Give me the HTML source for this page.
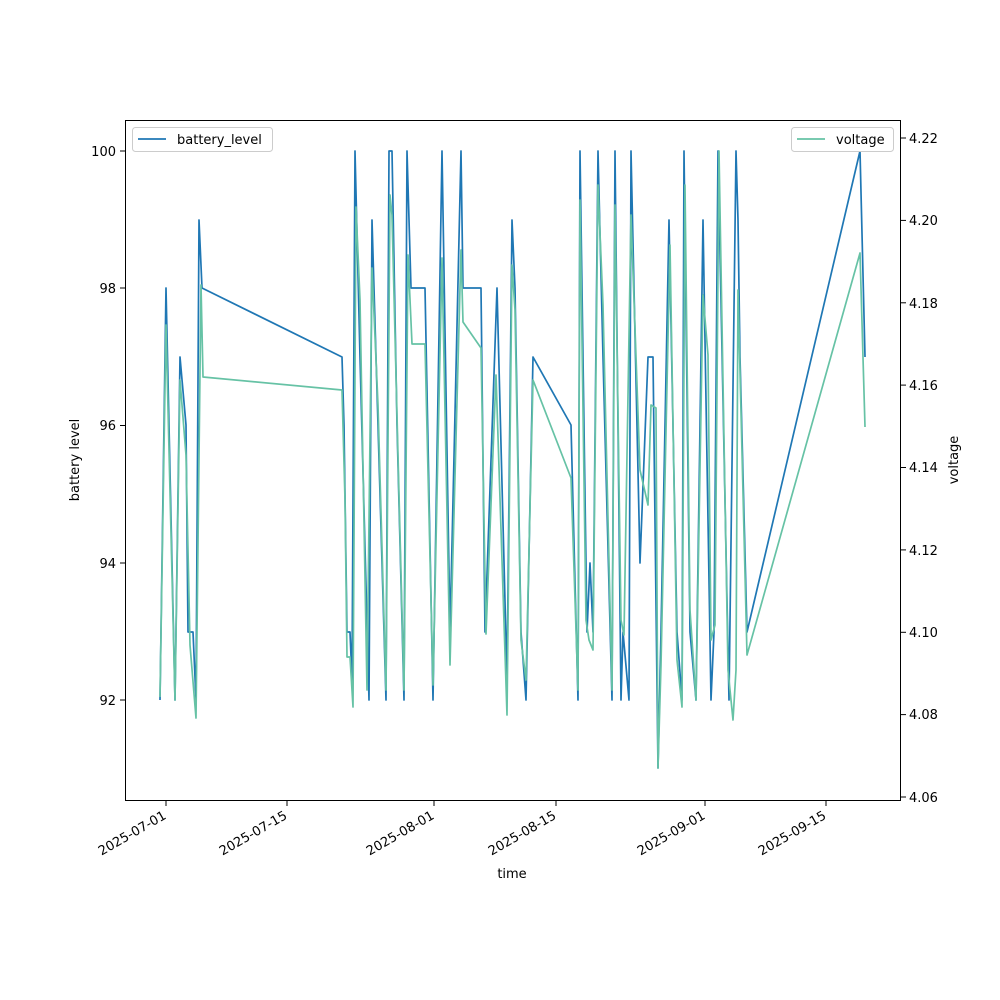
<!DOCTYPE html>
<html><head><style>body{margin:0;background:#fff}svg{display:block}text{font-family:"DejaVu Sans","Liberation Sans",sans-serif;font-size:13px;fill:#000}</style></head><body>
<svg width="1000" height="1000" xmlns="http://www.w3.org/2000/svg">
<rect width="1000" height="1000" fill="#fff"/>
<polyline fill="none" stroke="#1f77b4" stroke-width="1.7" stroke-linejoin="round" points="160,700 166,288 175,700 180,357 186,425 188,632 193,632 196,700 199,220 202,288 342,357 344,425 347,632 350,632 352,680 355,151 360,357 369,700 372,220 378,425 386,700 389,151 392,151 397,425 404,700 407,151 411,288 425,288 433,700 442,151 450,632 461,151 463,288 481,288 485,632 497,288 507,680 512,220 515,288 521,632 526,700 533,357 571,425 578,700 580,151 587,632 590,563 593,632 598,151 603,357 612,700 615,151 621,700 623,632 629,700 631,151 640,563 648,357 653,357 658,768 661,632 669,220 677,632 682,700 684,151 690,632 696,700 703,220 711,700 714,632 718,151 729,700 736,151 738,220 740,357 747,632 860,151 865,357"/>
<polyline fill="none" stroke="#66c2a5" stroke-width="1.7" stroke-linejoin="round" points="160,697 166,325 175,700 180,380 186,455 190,645 196,718 201,285 203,377 342,390 345,500 347,657 350,657 353,707 356,207 360,300 367,690 372,268 378,405 386,690 390,195 392,215 398,455 404,690 408,255 412,344 425,344 433,685 442,258 450,665 461,250 463,322 481,348 486,634 496,375 507,715 512,265 515,310 521,640 526,680 533,380 571,478 578,690 580,200 586,620 589,640 593,650 598,185 603,305 612,690 615,205 621,620 624,635 631,215 640,470 648,505 651,405 656,408 658,768 661,665 670,245 677,660 682,707 685,185 690,610 696,700 703,295 708,355 711,640 715,625 719,151 728,670 733,720 736,670 738,290 747,655 860,253 865,427"/>
<rect x="125.5" y="120.5" width="775" height="680" fill="none" stroke="#000" stroke-width="1"/>
<g stroke="#000">
<line x1="120" y1="151" x2="125" y2="151"/><line x1="120" y1="288" x2="125" y2="288"/><line x1="120" y1="425.5" x2="125" y2="425.5"/><line x1="120" y1="563" x2="125" y2="563"/><line x1="120" y1="700" x2="125" y2="700"/>
<line x1="901" y1="138" x2="906" y2="138"/><line x1="901" y1="220.4" x2="906" y2="220.4"/><line x1="901" y1="302.8" x2="906" y2="302.8"/><line x1="901" y1="385.1" x2="906" y2="385.1"/><line x1="901" y1="467.5" x2="906" y2="467.5"/><line x1="901" y1="549.9" x2="906" y2="549.9"/><line x1="901" y1="632.3" x2="906" y2="632.3"/><line x1="901" y1="714.6" x2="906" y2="714.6"/><line x1="901" y1="797" x2="906" y2="797"/>
<line x1="166" y1="801" x2="166" y2="806"/><line x1="287" y1="801" x2="287" y2="806"/><line x1="434" y1="801" x2="434" y2="806"/><line x1="556" y1="801" x2="556" y2="806"/><line x1="705" y1="801" x2="705" y2="806"/><line x1="826" y1="801" x2="826" y2="806"/>
</g>
<g text-anchor="end">
<text x="116" y="156">100</text><text x="116" y="293">98</text><text x="116" y="430">96</text><text x="116" y="568">94</text><text x="116" y="705">92</text>
</g>
<g>
<text x="909" y="143">4.22</text><text x="909" y="225">4.20</text><text x="909" y="308">4.18</text><text x="909" y="390">4.16</text><text x="909" y="472">4.14</text><text x="909" y="555">4.12</text><text x="909" y="637">4.10</text><text x="909" y="719">4.08</text><text x="909" y="802">4.06</text>
</g>
<g text-anchor="end">
<text transform="translate(167,818) rotate(-30)">2025-07-01</text>
<text transform="translate(288,818) rotate(-30)">2025-07-15</text>
<text transform="translate(435,818) rotate(-30)">2025-08-01</text>
<text transform="translate(557,818) rotate(-30)">2025-08-15</text>
<text transform="translate(706,818) rotate(-30)">2025-09-01</text>
<text transform="translate(827,818) rotate(-30)">2025-09-15</text>
</g>
<text x="512" y="878" text-anchor="middle">time</text>
<text transform="translate(79,460) rotate(-90)" text-anchor="middle">battery level</text>
<text transform="translate(958,460) rotate(-90)" text-anchor="middle">voltage</text>
<rect x="132.5" y="127.5" width="140" height="24" rx="3" fill="#fff" stroke="#ccc"/>
<line x1="138" y1="139" x2="166" y2="139" stroke="#1f77b4" stroke-width="1.7"/>
<text x="177" y="144">battery_level</text>
<rect x="791.5" y="127.5" width="102" height="24" rx="3" fill="#fff" stroke="#ccc"/>
<line x1="797" y1="139" x2="825" y2="139" stroke="#66c2a5" stroke-width="1.7"/>
<text x="836" y="144">voltage</text>
</svg>
</body></html>
